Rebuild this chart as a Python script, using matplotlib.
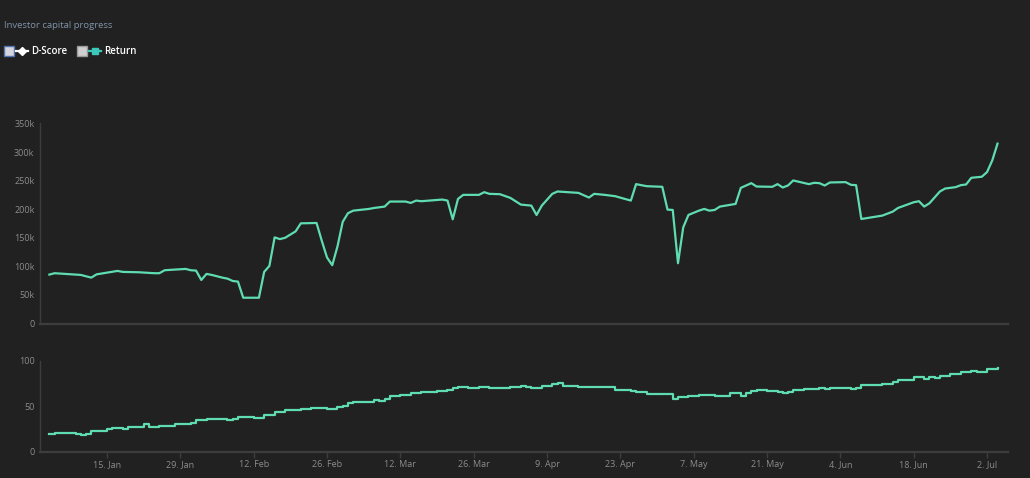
import matplotlib
matplotlib.use("Agg")
import matplotlib.pyplot as plt
import matplotlib.dates as mdates
from matplotlib.patches import Rectangle
from matplotlib.lines import Line2D
from matplotlib.ticker import FuncFormatter
import pandas as pd

# capital (in thousands)
capital_dates = [
    "01-04", "01-05", "01-07", "01-10", "01-11", "01-12", "01-13", "01-15",
    "01-17", "01-18", "01-21", "01-24", "01-25", "01-26", "01-28", "01-30",
    "01-31", "02-01", "02-02", "02-03", "02-04", "02-06", "02-07", "02-08",
    "02-09", "02-10", "02-13", "02-14", "02-15", "02-16", "02-17", "02-18",
    "02-20", "02-21", "02-24", "02-25", "02-26", "02-27", "02-28", "03-01",
    "03-02", "03-03", "03-06", "03-07", "03-09", "03-10", "03-13", "03-14",
    "03-15", "03-16", "03-20", "03-21", "03-22", "03-23", "03-24", "03-27",
    "03-28", "03-29", "03-31", "04-02", "04-04", "04-06", "04-07", "04-08",
    "04-10", "04-11", "04-15", "04-17", "04-18", "04-20", "04-22", "04-25",
    "04-26", "04-28", "05-01", "05-02", "05-03", "05-04", "05-05", "05-06",
    "05-08", "05-09", "05-10", "05-11", "05-12", "05-15", "05-16", "05-18",
    "05-19", "05-22", "05-23", "05-24", "05-25", "05-26", "05-29", "05-30",
    "05-31", "06-01", "06-02", "06-05", "06-06", "06-07", "06-08", "06-12",
    "06-14", "06-15", "06-18", "06-19", "06-20", "06-21", "06-23", "06-24",
    "06-26", "06-27", "06-28", "06-29", "07-01", "07-02", "07-03", "07-04",
]
capital_k = [
    85.6, 88.0, 86.8, 85.0, 82.6, 80.3, 86.0, 89.0,
    92.0, 90.3, 89.7, 88.0, 88.0, 93.2, 94.4, 95.5,
    93.2, 92.6, 76.2, 86.8, 85.0, 80.3, 78.5, 74.4,
    73.3, 45.1, 45.1, 90.3, 100.8, 150.7, 147.7, 150.0,
    161.2, 175.3, 175.9, 144.8, 115.5, 102.0, 135.0, 178.0,
    193.0, 197.5, 200.5, 202.2, 204.6, 213.4, 213.4, 211.0,
    215.1, 214.0, 216.9, 215.1, 182.3, 218.0, 225.1, 225.1,
    229.8, 226.9, 226.3, 219.8, 208.1, 206.3, 189.9, 206.3,
    226.9, 231.0, 228.6, 220.4, 226.9, 225.1, 222.8, 215.1,
    243.9, 240.3, 239.2, 199.3, 198.7, 105.5, 168.2, 190.0,
    197.5, 200.5, 197.5, 198.7, 204.6, 209.3, 237.4, 245.6,
    239.7, 239.2, 243.9, 238.0, 241.5, 250.3, 243.9, 246.2,
    245.6, 241.5, 246.8, 247.4, 242.7, 242.1, 182.9, 188.8,
    195.8, 202.2, 212.2, 214.0, 204.6, 210.4, 231.0, 236.2,
    238.6, 242.1, 243.3, 255.0, 256.8, 265.0, 285.5, 314.8,
]

# d-score (step line)
score_dates = [
    "01-04", "01-05", "01-09", "01-10", "01-11", "01-12", "01-15", "01-16",
    "01-18", "01-19", "01-22", "01-23", "01-25", "01-28", "01-31", "02-01",
    "02-03", "02-05", "02-07", "02-08", "02-09", "02-12", "02-14", "02-16",
    "02-18", "02-21", "02-23", "02-26", "02-28", "03-01", "03-02", "03-03",
    "03-07", "03-08", "03-09", "03-10", "03-12", "03-14", "03-16", "03-19",
    "03-21", "03-22", "03-23", "03-25", "03-27", "03-29", "04-02", "04-04",
    "04-05", "04-06", "04-08", "04-10", "04-11", "04-12", "04-15", "04-22",
    "04-25", "04-26", "04-28", "05-03", "05-04", "05-06", "05-08", "05-11",
    "05-14", "05-16", "05-17", "05-18", "05-19", "05-21", "05-23", "05-24",
    "05-25", "05-26", "05-28", "05-31", "06-01", "06-02", "06-04", "06-06",
    "06-07", "06-08", "06-11", "06-12", "06-14", "06-15", "06-18", "06-20",
    "06-21", "06-22", "06-23", "06-25", "06-27", "06-29", "06-30", "07-02",
    "07-03", "07-04",
]
score = [
    19.5, 21.0, 19.5, 18.4, 20.0, 23.2, 25.0, 26.5,
    25.4, 26.8, 30.0, 27.6, 28.7, 30.5, 32.0, 34.5,
    36.4, 35.7, 34.6, 36.0, 37.9, 37.1, 40.8, 43.4,
    46.3, 47.4, 48.5, 47.0, 48.9, 50.7, 53.3, 54.4,
    57.0, 55.9, 58.1, 61.8, 62.5, 64.3, 65.4, 67.3,
    68.4, 69.9, 71.3, 70.6, 71.3, 69.9, 71.3, 72.1,
    71.3, 69.9, 72.8, 74.6, 75.4, 72.1, 71.3, 68.0,
    66.9, 65.8, 64.0, 58.5, 60.7, 61.4, 62.5, 61.8,
    64.3, 61.8, 65.0, 66.9, 68.0, 66.9, 66.2, 65.0,
    66.2, 68.0, 68.8, 69.9, 68.8, 69.9, 70.6, 69.5,
    70.6, 73.2, 73.9, 75.0, 77.2, 78.7, 82.7, 79.8,
    82.7, 81.6, 83.5, 85.7, 87.5, 89.0, 87.5, 90.8,
    91.5, 91.9,
]

tick_dates = pd.date_range("2018-01-15", "2018-07-02", freq="14D")

cap_x = pd.to_datetime(["2018-" + d for d in capital_dates])
score_x = pd.to_datetime(["2018-" + d for d in score_dates])

bg = "#212121"
line_col = "#5fdcb0"
axis_col = "#3d3d3d"
label_col = "#8c8c8c"

plt.rcParams["font.family"] = ["Open Sans", "DejaVu Sans"]

fig = plt.figure(figsize=(10.3, 4.78), dpi=100, facecolor=bg)
W, H = 1030, 478


def fx(px):
    return px / W


def fy(py):
    return 1 - py / H


x_lo = pd.Timestamp("2018-01-02 05:00")
x_hi = pd.Timestamp("2018-07-06")

ax1 = fig.add_axes([fx(40), fy(323.5), fx(968), 200 / H])
ax2 = fig.add_axes([fx(40), fy(451.7), fx(968), 90.7 / H])

for ax in (ax1, ax2):
    ax.set_facecolor(bg)
    ax.set_xlim(x_lo, x_hi)
    for s in ("top", "right"):
        ax.spines[s].set_visible(False)
    ax.spines["left"].set_color(axis_col)
    ax.spines["left"].set_linewidth(1.0)
    ax.spines["bottom"].set_color(axis_col)
    ax.spines["bottom"].set_linewidth(1.6)
    ax.tick_params(axis="y", length=0, pad=4, labelsize=6.5, labelcolor=label_col)

ax1.plot(cap_x, [v * 1000 for v in capital_k], color=line_col, lw=1.6,
         solid_joinstyle="round")
ax1.set_ylim(0, 350000)
ax1.set_yticks(range(0, 350001, 50000))
ax1.yaxis.set_major_formatter(FuncFormatter(lambda v, p: "0" if v == 0 else f"{int(v / 1000)}k"))
ax1.set_xticks(tick_dates)
ax1.tick_params(axis="x", length=0, labelbottom=False)

ax2.plot(score_x, score, color=line_col, lw=1.6, drawstyle="steps-post")
ax2.set_ylim(0, 100)
ax2.set_yticks([0, 50, 100])
ax2.set_xticks(tick_dates)
ax2.xaxis.set_major_formatter(mdates.DateFormatter("%-d. %b"))
ax2.tick_params(axis="x", length=4, width=1, color=axis_col, pad=2,
                labelsize=6.5, labelcolor=label_col)

# title
fig.text(fx(4), fy(25), "Investor capital progress", color="#7f93a8",
         fontsize=6.8, ha="left", va="center")

# legend with checkboxes
ly = 51
fig.add_artist(Rectangle((fx(3.5), fy(56)), fx(10), 10 / H, transform=fig.transFigure,
                         facecolor="#d6d6de", edgecolor="#4f74b0", lw=1.0))
fig.add_artist(Line2D([fx(16), fx(28)], [fy(ly), fy(ly)], transform=fig.transFigure,
                      color="white", lw=1.6))
fig.add_artist(Line2D([fx(22)], [fy(ly)], transform=fig.transFigure, marker="D",
                      markersize=4.5, color="white", lw=0))
fig.text(fx(31), fy(ly), "D-Score", color="white", fontsize=7, fontweight="semibold",
         ha="left", va="center")

fig.add_artist(Rectangle((fx(77), fy(56)), fx(10), 10 / H, transform=fig.transFigure,
                         facecolor="#cfcfcf", edgecolor="#9a9a9a", lw=1.0))
fig.add_artist(Line2D([fx(89), fx(101)], [fy(ly), fy(ly)], transform=fig.transFigure,
                      color="#3cc8b8", lw=1.6))
fig.add_artist(Line2D([fx(95)], [fy(ly)], transform=fig.transFigure, marker="s",
                      markersize=5, color="#3cc8b8", lw=0))
fig.text(fx(104), fy(ly), "Return", color="white", fontsize=7, fontweight="semibold",
         ha="left", va="center")

fig.savefig("out.png", dpi=100, facecolor=bg)
